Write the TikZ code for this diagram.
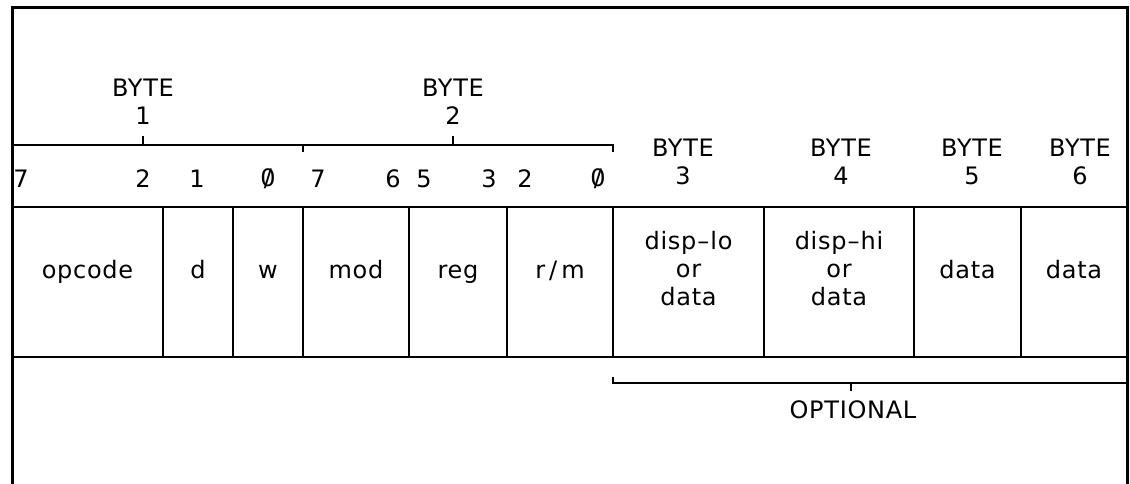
\documentclass[tikz,border=0pt]{standalone}
\usepackage{fontspec}
\setmainfont{DejaVu Sans}[LetterSpace=3]
\newcommand{\zro}{{\ooalign{0\cr\hidewidth/\hidewidth\cr}}}
\newcommand{\dsh}{\kern1pt--\kern1pt}
\tikzset{
  field/.style={draw,line width=2pt,minimum height=150pt,inner sep=0pt},
  fieldtxt/.style={align=center,inner sep=0pt,
    execute at begin node=\strut,execute at end node=\strut},
  bytelbl/.style={align=center,inner sep=0pt},
  brk/.style={line width=2pt}
}

\begin{document}
\begin{tikzpicture}[x=1pt,y=-1pt,every node/.style={font=\fontsize{24}{28}\selectfont}]
  \useasboundingbox (0,0) rectangle (1130,484);
  \draw[line width=3pt] (12,484) -- (12,8) -- (1127,8) -- (1127,484);
  \foreach \nm/\xa/\xb/\txt in {opc/12/163/opcode, d/163/233/d, w/233/303/w,
      mod/303/409/mod, reg/409/507/reg, rm/507/613/{r\,/\,m},
      dlo/613/764/{disp\dsh lo\\or\\data}, dhi/764/914/{disp\dsh hi\\or\\data},
      dat5/914/1021/data, dat6/1021/1127/data}
  {
    \node[field,minimum width=\xb-\xa] (\nm) at ({(\xa+\xb)/2},282) {};
    \node[fieldtxt] (\nm-t) at ([yshift=9pt]\nm.center) {\txt};
  }
  \draw[brk] (12,151) -- (12,145) -- (303,145) -- (303,152);
  \draw[brk] (143,145) -- (143,136);
  \draw[brk] (303,145) -- (613,145) -- (613,152);
  \draw[brk] (453,145) -- (453,136);
  \draw[brk] (613,377) -- (613,383) -- (1127,383);
  \draw[brk] (851,383) -- (851,391);
  \node[bytelbl] (byte1) at (143,102) {BYTE\\1};
  \node[bytelbl] (byte2) at (453,102) {BYTE\\2};
  \node[bytelbl] (byte3) at (683,162) {BYTE\\3};
  \node[bytelbl] (byte4) at (841,162) {BYTE\\4};
  \node[bytelbl] (byte5) at (972,162) {BYTE\\5};
  \node[bytelbl] (byte6) at (1080,162) {BYTE\\6};
  \foreach \x/\b in {21/7,143/2,197/1,268/\zro,318/7,393/6,424/5,489/3,525/2,598/\zro}
    \node (bit\x) at (\x,179) {\b};
  \node (opt) at (853,410) {OPTIONAL};
\end{tikzpicture}
\end{document}
